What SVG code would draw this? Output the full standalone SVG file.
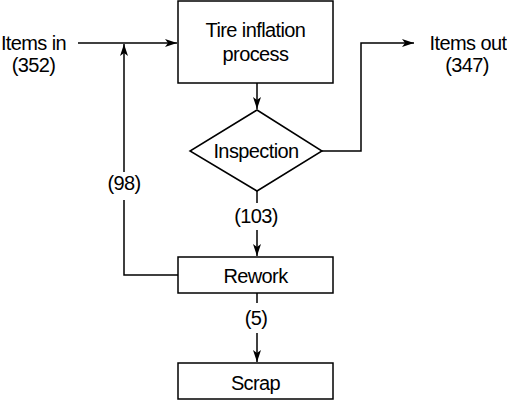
<svg xmlns="http://www.w3.org/2000/svg" width="507" height="400" viewBox="0 0 507 400">
<defs>
<style>
.box{fill:#fff;stroke:#000;stroke-width:1.5}
.ln{fill:none;stroke:#000;stroke-width:1.5}
.t{font-family:"Liberation Sans",Arial,sans-serif;font-size:20px;letter-spacing:-0.6px;fill:#000;text-anchor:middle}
</style>
<marker id="ah" viewBox="0 0 12 8" refX="12" refY="4" markerWidth="12" markerHeight="8" markerUnits="userSpaceOnUse" orient="auto">
<path d="M0,0 L12,4 L0,8 L3,4 Z" fill="#000"/>
</marker>
</defs>
<rect width="507" height="400" fill="#fff"/>
<g id="connectors">
<line class="ln" x1="78" y1="43" x2="177" y2="43" marker-end="url(#ah)"/>
<line class="ln" x1="257" y1="83" x2="257" y2="109" marker-end="url(#ah)"/>
<polyline class="ln" points="322,151 361,151 361,43 414,43" marker-end="url(#ah)"/>
<line class="ln" x1="257" y1="191" x2="257" y2="203"/>
<line class="ln" x1="257" y1="230" x2="257" y2="256" marker-end="url(#ah)"/>
<polyline class="ln" points="178,275 124,275 124,200"/>
<line class="ln" x1="124" y1="172" x2="124" y2="44" marker-end="url(#ah)"/>
<line class="ln" x1="257" y1="293" x2="257" y2="303"/>
<line class="ln" x1="257" y1="333" x2="257" y2="362" marker-end="url(#ah)"/>
<text class="t" x="124" y="190">(98)</text>
<text class="t" x="256" y="223">(103)</text>
<text class="t" x="256" y="325">(5)</text>
</g>
<g id="items-in">
<text class="t" x="33.5" y="50">Items in</text>
<text class="t" x="33.5" y="72">(352)</text>
</g>
<g id="items-out">
<text class="t" x="468" y="50">Items out</text>
<text class="t" x="467" y="72">(347)</text>
</g>
<g id="tire-inflation">
<rect class="box" x="178" y="1" width="155" height="82"/>
<text class="t" x="255.5" y="37">Tire inflation</text>
<text class="t" x="255.5" y="61">process</text>
</g>
<g id="inspection">
<polygon class="box" points="257,110 322,151 257,191 190,151"/>
<text class="t" x="256" y="158">Inspection</text>
</g>
<g id="rework">
<rect class="box" x="178" y="257" width="155" height="36"/>
<text class="t" x="255.5" y="283">Rework</text>
</g>
<g id="scrap">
<rect class="box" x="178" y="363" width="155" height="36"/>
<text class="t" x="255.5" y="390">Scrap</text>
</g>
</svg>
